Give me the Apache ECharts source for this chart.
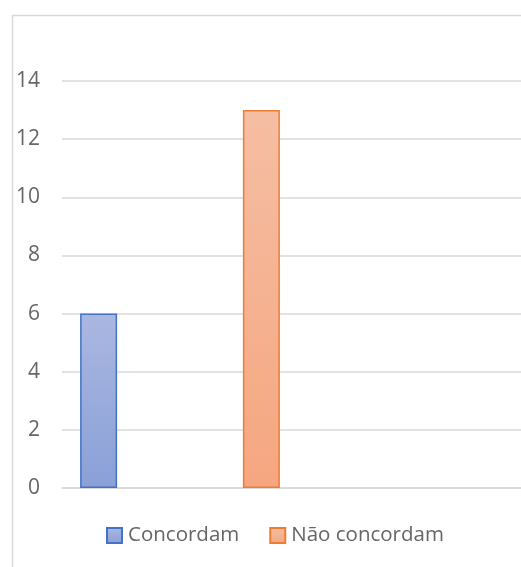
<!DOCTYPE html>
<html>
<head>
<meta charset="utf-8">
<script src="https://cdn.jsdelivr.net/npm/echarts@6/dist/echarts.min.js"></script>
<style>
  html, body { margin: 0; padding: 0; background: #ffffff; overflow: hidden; }
  /* the chart area runs past the right edge of the window */
  #chart { width: 560px; height: 567px; }
</style>
</head>
<body>
<div id="chart"></div>
<script>
// Survey answers: agree vs. disagree
const categories = ['Grupo A', 'Grupo B', 'Grupo C', 'Grupo D'];
const seriesNames = ['Concordam', 'Não concordam'];
const concordam = [6, '-', '-', '-'];
const naoConcordam = ['-', 13, '-', '-'];
const yTicks = { min: 0, max: 14, interval: 2 };

const chart = echarts.init(document.getElementById('chart'), null, { renderer: 'canvas' });

function grad(top, bottom) {
  return new echarts.graphic.LinearGradient(0, 0, 0, 1, [
    { offset: 0, color: top },
    { offset: 1, color: bottom }
  ]);
}

const font = '"Open Sans", "Noto Sans", sans-serif';

chart.setOption({
  animation: false,
  backgroundColor: '#ffffff',
  graphic: [{
    type: 'rect',
    shape: { x: 12.5, y: 15.5, width: 600, height: 600 },
    style: { fill: 'none', stroke: '#d9d9d9', lineWidth: 1.5 },
    z: -1
  }],
  grid: { left: 62, top: 81, width: 472, height: 407, containLabel: false },
  legend: {
    left: 101,
    top: 520,
    itemWidth: 15,
    itemHeight: 15,
    itemGap: 30,
    icon: 'rect',
    textStyle: { fontFamily: font, fontSize: 20.5, color: '#666666', padding: [0, 0, 0, 1] },
    data: seriesNames
  },
  xAxis: {
    type: 'category',
    data: categories,
    axisLine: { show: true, lineStyle: { color: '#d9d9d9', width: 1.5 } },
    axisTick: { show: false },
    axisLabel: { show: false },
    splitLine: { show: false }
  },
  yAxis: {
    type: 'value',
    min: yTicks.min,
    max: yTicks.max,
    interval: yTicks.interval,
    axisLine: { show: false },
    axisTick: { show: false },
    axisLabel: { fontFamily: font, fontSize: 21, color: '#666666', margin: 22 },
    splitLine: { lineStyle: { color: '#d9d9d9', width: 1.5 } }
  },
  series: [
    {
      name: seriesNames[0],
      type: 'bar',
      data: concordam,
      barWidth: 37,
      barGap: '21%',
      itemStyle: {
        color: grad('#aab7e1', '#8aa0d7'),
        borderColor: '#4472c4',
        borderWidth: 1.5
      }
    },
    {
      name: seriesNames[1],
      type: 'bar',
      data: naoConcordam,
      barWidth: 37,
      barGap: '21%',
      itemStyle: {
        color: grad('#f5bea3', '#f5a680'),
        borderColor: '#ed7d31',
        borderWidth: 1.5
      }
    }
  ]
});
</script>
</body>
</html>
